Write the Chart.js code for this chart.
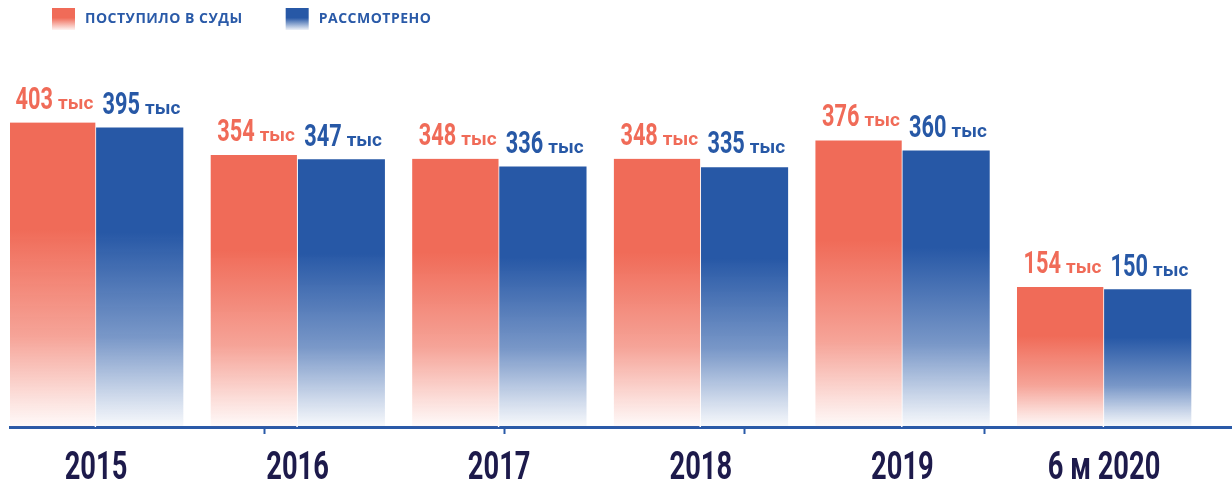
<!DOCTYPE html>
<html lang="ru">
<head>
<meta charset="utf-8">
<script src="https://cdn.jsdelivr.net/npm/chart.js@4.4.1/dist/chart.umd.min.js"></script>
<style>
	html, body { margin: 0; padding: 0; background: #fff; }
	#wrap { width: 1232px; height: 486px; position: relative; }
</style>
</head>
<body>
<div id="wrap"><canvas id="mycanvas"></canvas></div>
<script>
var years = ['2015', '2016', '2017', '2018', '2019', '6 м 2020'];
var received = [403, 354, 348, 348, 376, 154];
var reviewed = [395, 347, 336, 335, 360, 150];
var seriesNames = ['ПОСТУПИЛО В СУДЫ', 'РАССМОТРЕНО'];
var unitLabel = 'тыс';

var RED = [240, 107, 88];
var BLUE = [39, 88, 166];
var AXIS = '#2a5aa8';
var Y_MIN = -58, Y_MAX = 528;

function rgba(c, a) {
	return 'rgba(' + c[0] + ',' + c[1] + ',' + c[2] + ',' + a + ')';
}

// solid on top, fading out towards the bottom
function fade(ctx, c, top, bottom) {
	var g = ctx.createLinearGradient(0, top, 0, bottom);
	g.addColorStop(0, rgba(c, 1));
	g.addColorStop(0.35, rgba(c, 1));
	g.addColorStop(0.7, rgba(c, 0.62));
	g.addColorStop(0.9, rgba(c, 0.22));
	g.addColorStop(1, rgba(c, 0.03));
	return g;
}

function barFill(c) {
	return function(context) {
		var chart = context.chart;
		if (!chart.chartArea || context.type !== 'data') return rgba(c, 1);
		var y = chart.scales.y;
		return fade(chart.ctx, c, y.getPixelForValue(context.parsed.y), y.getPixelForValue(Y_MIN));
	};
}

function points(arr) {
	return arr.map(function(v, i) { return {x: i, y: v}; });
}

var valueLabels = {
	id: 'valueLabels',
	afterDatasetsDraw: function(chart) {
		var ctx = chart.ctx;
		chart.data.datasets.forEach(function(ds, di) {
			var meta = chart.getDatasetMeta(di);
			meta.data.forEach(function(bar, i) {
				var num = String(ds.data[i].y);
				var sx = 0.68;
				ctx.save();
				ctx.font = 'bold 32px Roboto';
				var nw = ctx.measureText(num).width * sx;
				ctx.font = 'bold 19px Roboto';
				var uw = ctx.measureText(unitLabel).width;
				var gap = 5;
				var x0 = bar.x - (nw + gap + uw) / 2 + 2;
				var base = bar.y - 14;
				ctx.fillStyle = rgba(ds.rgb, 1);
				ctx.textAlign = 'left';
				ctx.textBaseline = 'alphabetic';
				ctx.fillText(unitLabel, x0 + nw + gap, base);
				ctx.translate(x0, base);
				ctx.scale(sx, 1);
				ctx.font = 'bold 32px Roboto';
				ctx.fillText(num, 0, 0);
				ctx.restore();
			});
		});
	}
};

var yearLabels = {
	id: 'yearLabels',
	afterDraw: function(chart) {
		var ctx = chart.ctx;
		var xs = chart.scales.x;
		var sx = 0.7;
		years.forEach(function(lbl, i) {
			ctx.save();
			ctx.font = 'bold 39px Roboto';
			var w = ctx.measureText(lbl).width * sx;
			ctx.translate(xs.getPixelForValue(i) - w / 2, chart.chartArea.bottom + 52);
			ctx.scale(sx, 1);
			ctx.fillStyle = '#1d1a4b';
			ctx.textAlign = 'left';
			ctx.textBaseline = 'alphabetic';
			ctx.fillText(lbl, 0, 0);
			ctx.restore();
		});
	}
};

var topLegend = {
	id: 'topLegend',
	afterDraw: function(chart) {
		var ctx = chart.ctx;
		var x = 52, top = 8, bw = 23, bh = 22;
		ctx.save();
		ctx.font = 'bold 14px "Open Sans"';
		ctx.letterSpacing = '0.5px';
		ctx.textAlign = 'left';
		ctx.textBaseline = 'alphabetic';
		chart.data.datasets.forEach(function(ds) {
			var g = ctx.createLinearGradient(0, top, 0, top + bh);
			g.addColorStop(0, rgba(ds.rgb, 1));
			g.addColorStop(0.45, rgba(ds.rgb, 1));
			g.addColorStop(1, rgba(ds.rgb, 0.08));
			ctx.fillStyle = g;
			ctx.fillRect(x, top, bw, bh);
			ctx.fillStyle = AXIS;
			ctx.fillText(ds.label, x + bw + 10, top + 15);
			x += bw + 10 + ctx.measureText(ds.label).width + 43;
		});
		ctx.restore();
	}
};

var ctx = document.getElementById('mycanvas');

var barGraph = new Chart(ctx, {
	type: 'bar',
	data: {
		datasets: [
			{
				label: seriesNames[0],
				data: points(received),
				rgb: RED,
				backgroundColor: barFill(RED),
				borderColor: '#ffffff',
				borderWidth: { top: 0, right: 1, bottom: 0, left: 0 },
				borderSkipped: false,
				base: Y_MIN,
				barThickness: 87
			},
			{
				label: seriesNames[1],
				data: points(reviewed),
				rgb: BLUE,
				backgroundColor: barFill(BLUE),
				base: Y_MIN,
				barThickness: 87
			}
		]
	},
	options: {
		responsive: true,
		maintainAspectRatio: false,
		animation: false,
		layout: { padding: { left: 10, right: 0, top: 40, bottom: 52 } },
		plugins: {
			legend: { display: false },
			tooltip: { enabled: false }
		},
		scales: {
			x: {
				type: 'linear',
				display: false,
				offset: false,
				grid: { offset: false },
				min: -0.4266,
				max: 5.635
			},
			x2: {
				type: 'linear',
				position: 'bottom',
				offset: false,
				min: -0.0625,
				max: 5.0292,
				afterBuildTicks: function(scale) {
					scale.ticks = scale.ticks.filter(function(t) { return t.value >= 1 && t.value <= 4; });
				},
				ticks: { display: false, stepSize: 1 },
				grid: { offset: false, drawOnChartArea: false, tickLength: 7, tickWidth: 2, tickColor: AXIS },
				border: { display: true, color: AXIS, width: 3 }
			},
			y: { display: false, min: Y_MIN, max: Y_MAX }
		}
	},
	plugins: [valueLabels, yearLabels, topLegend]
});
</script>
</body>
</html>
